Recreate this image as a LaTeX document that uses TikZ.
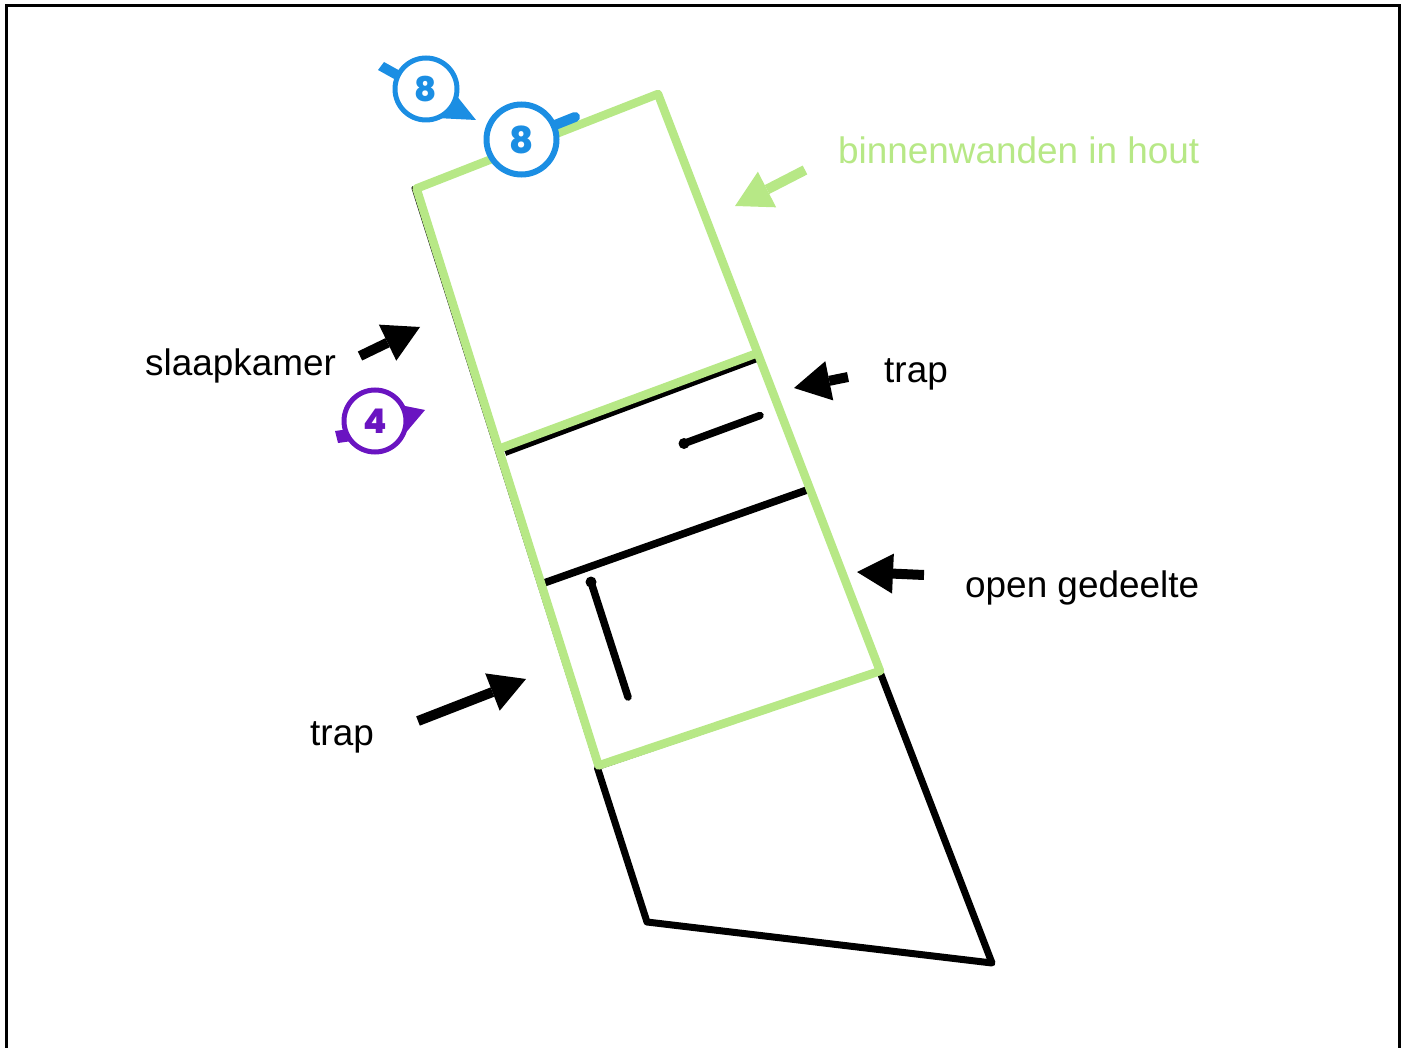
\documentclass[tikz,border=0pt]{standalone}
\usepackage{fontspec}
\setmainfont{Liberation Sans}
\newfontfamily\digitfont[BoldFont={Poppins ExtraBold}]{Poppins}
\usetikzlibrary{arrows.meta}
\definecolor{wandgreen}{HTML}{B7E886}
\definecolor{tagblue}{HTML}{1B8EE3}
\definecolor{tagpurple}{HTML}{6A14C1}
\tikzset{
  blackwall/.style={draw=black,line width=7pt,line cap=round,line join=round},
  thinwall/.style={draw=black,line width=4pt,line cap=round,line join=round},
  greenwall/.style={draw=wandgreen,line width=8.5pt,line cap=round,line join=round},
  pointer/.style={line width=#1,-{Triangle[length=36pt,width=40pt,line width=0pt]}},
  label/.style={font=\fontsize{36.9}{40}\selectfont,inner sep=0pt,text=black},
  tag/.style={circle,draw=#1,fill=white,text=#1,inner sep=0pt,font=\digitfont\bfseries\fontsize{34}{34}\selectfont}
}
\begin{document}
\begin{tikzpicture}[x=1pt,y=-1pt]
\useasboundingbox (0,0) rectangle (1405,1048);
% frame
\draw[line width=3.5pt] (6.5,1060) -- (6.5,5.5) -- (1399.5,5.5) -- (1399.5,1060);
\clip (0,0) rectangle (1405,1048);

% corners
\coordinate (a) at (413.5,188);
\coordinate (b) at (597.5,768);
\coordinate (c) at (647,922);
\coordinate (d) at (992,963);
\coordinate (e) at (880,672);

% black walls under the green
\draw[thinwall] (a) -- (b);
\draw[blackwall] (b) -- (c) -- (d) -- (e);
\draw[thinwall] (b) -- (e);
\coordinate (w1a) at (505,452.5); \coordinate (w1b) at (757,358.5);
\coordinate (w2a) at (544,583); \coordinate (w2b) at (807,490);
\draw[draw=black,line width=7pt] (w1a) -- (w1b);
\draw[draw=black,line width=7.5pt] (w2a) -- (w2b);

% green walls
\coordinate (g1) at (416.5,188.5);
\coordinate (g2) at (658,94);
\coordinate (g3) at (880,671);
\coordinate (g4) at (598.5,765.5);
\coordinate (g5) at (501,448);
\coordinate (g6) at (755,354);
\draw[greenwall] (g1) -- (g2) -- (g3) -- (g4) -- cycle;
\draw[greenwall] (g5) -- (g6);

% stairs
\coordinate (s1a) at (684,443.5); \coordinate (s1b) at (760,415.5);
\coordinate (s2a) at (591,582); \coordinate (s2b) at (628,697);
\fill (s1a) circle (5.5pt);
\fill (s2a) circle (5.5pt);
\draw[line width=7.5pt,line cap=round] (s1a) -- (s1b);
\draw[line width=7.5pt,line cap=round] (s2a) -- (s2b);

% labels
\node[label,text=wandgreen,anchor=base west] (lhout) at (838,164) {binnenwanden in hout};
\node[label,anchor=base west] (lslaap) at (145,375) {slaapkamer};
\node[label,anchor=base west] (ltrap1) at (884,382) {trap};
\node[label,anchor=base west] (lopen) at (965,597) {open gedeelte};
\node[label,anchor=base west] (ltrap2) at (310,745) {trap};

% pointer arrows
\coordinate (p1a) at (805,170); \coordinate (p1b) at (735,206);
\coordinate (p2a) at (360,356); \coordinate (p2b) at (420,327);
\coordinate (p3a) at (848,377); \coordinate (p3b) at (794,388);
\coordinate (p4a) at (924,575); \coordinate (p4b) at (857,572);
\coordinate (p5a) at (418,721); \coordinate (p5b) at (526,679);
\draw[pointer=10pt,wandgreen] (p1a) -- (p1b);
\draw[pointer=10pt] (p2a) -- (p2b);
\draw[pointer=10pt] (p3a) -- (p3b);
\draw[pointer=10pt] (p4a) -- (p4b);
\draw[pointer=10pt] (p5a) -- (p5b);

% tag A (blue, free)
\coordinate (ca) at (426,89);
\fill[tagblue] (378,70) -- (384,62) -- (402,72) -- (396,80) -- cycle;
\fill[tagblue] (452,90) -- (476,120) -- (436,118) -- cycle;
\node[tag=tagblue,line width=5pt,minimum size=62pt] (t1) at (ca) {8};

% tag B (blue, on wall)
\coordinate (cb) at (521.5,139.5);
\draw[tagblue,line width=10pt,line cap=round] (555,125) -- (575,117);
\node[tag=tagblue,line width=6pt,minimum size=70pt,font=\digitfont\bfseries\fontsize{37}{37}\selectfont] (t2) at (cb) {8};

% tag C (purple)
\coordinate (cc) at (375,421);
\fill[tagpurple] (335,431) -- (349,429) -- (352,441) -- (338,443) -- cycle;
\fill[tagpurple] (400,405) -- (425,410) -- (403,436) -- cycle;
\node[tag=tagpurple,line width=5pt,minimum size=62pt] (t3) at (cc) {4};
\end{tikzpicture}
\end{document}
